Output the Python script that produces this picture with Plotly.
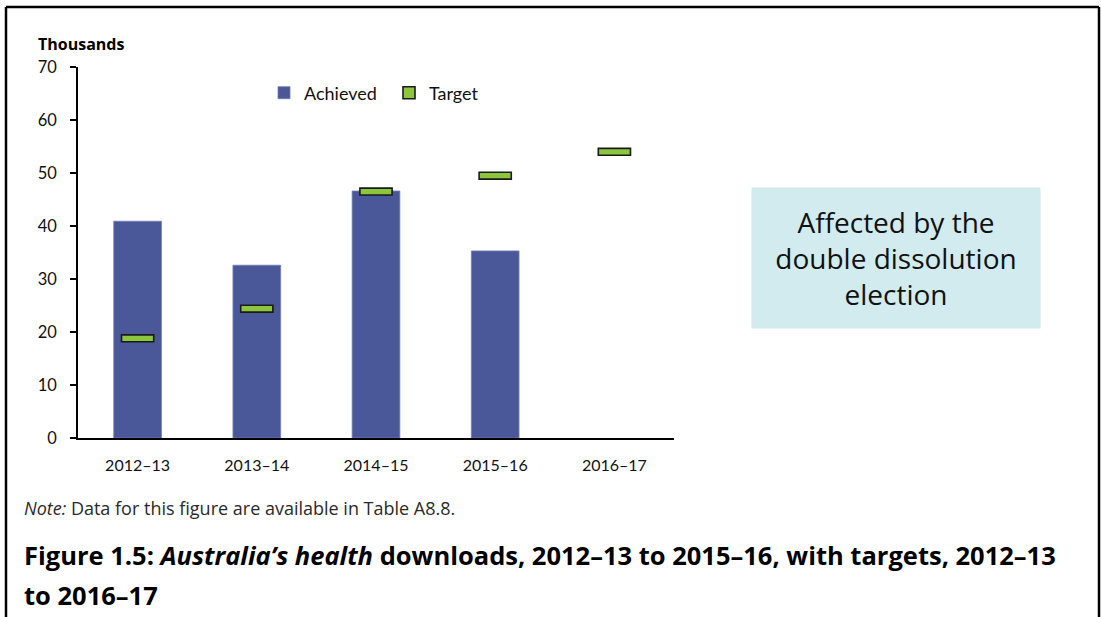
import plotly.graph_objects as go

categories = ["2012–13", "2013–14", "2014–15", "2015–16", "2016–17"]
achieved = [40.9, 32.6, 46.6, 35.3, None]
target = [18.8, 24.4, 46.5, 49.5, 54.0]
y_ticks = [0, 10, 20, 30, 40, 50, 60, 70]

W, H = 1101, 617
L, R, T, B = 78, 674, 67, 438


def px(x):
    return (x - L) / (R - L)


def py(y):
    return (B - y) / (B - T)


marker_h = 1.3
fig = go.Figure()
fig.add_trace(go.Bar(
    x=categories, y=achieved, name="Achieved", width=0.40,
    marker=dict(color="#4a5899", line=dict(color="#6f7cb5", width=0.8)),
))
fig.add_trace(go.Bar(
    x=categories, y=[marker_h] * len(target), base=[t - marker_h / 2 for t in target],
    name="Target", width=0.27,
    marker=dict(color="#8cc63f", line=dict(color="#1a1a1a", width=1.6)),
))

fig.update_layout(
    width=W, height=H,
    margin=dict(l=L, r=W - R, t=T, b=H - B),
    paper_bgcolor="white", plot_bgcolor="white",
    barmode="overlay",
    font=dict(family="Lato, Open Sans, sans-serif", color="#111111"),
    showlegend=True,
    legend=dict(orientation="h", x=px(264), y=py(93), xanchor="left", yanchor="middle",
                font=dict(size=18, family="Lato, sans-serif"), entrywidth=80,
                bgcolor="rgba(0,0,0,0)", traceorder="normal"),
    xaxis=dict(type="category", showline=True, linecolor="black", linewidth=1.5,
               ticks="", tickfont=dict(size=16, family="Lato, sans-serif"), showgrid=False,
               ticklabelstandoff=12),
    yaxis=dict(range=[0, 70], tickvals=y_ticks, showline=True, linecolor="black", linewidth=1.5,
               ticks="outside", ticklen=6, tickcolor="black", tickwidth=1.5,
               tickfont=dict(size=16.5, family="Lato, sans-serif"), showgrid=False, zeroline=False,
               ticklabelstandoff=10),
    bargap=0.2,
)

annotations = [
    dict(text="<b>Thousands</b>", x=px(36), y=py(44), xanchor="left", yanchor="middle",
         font=dict(size=16, family="Open Sans, sans-serif", color="black")),
    dict(text="Affected by the<br>double dissolution<br>election", x=px(896), y=py(258),
         xanchor="center", yanchor="middle", width=286, height=138,
         bgcolor="#d2ebee", align="center",
         font=dict(size=28, family="Open Sans, sans-serif", color="#111111")),
    dict(text="<i>Note:</i> Data for this figure are available in Table A8.8.", x=px(22), y=py(508),
         xanchor="left", yanchor="middle",
         font=dict(size=18, family="Open Sans, sans-serif", color="#2a2a2a")),
    dict(text="<b>Figure 1.5: <i>Australia’s health</i> downloads, 2012–13 to 2015–16, with targets, 2012–13</b>",
         x=px(22), y=py(555), xanchor="left", yanchor="middle",
         font=dict(size=25.5, family="Open Sans, sans-serif", color="black")),
    dict(text="<b>to 2016–17</b>", x=px(22), y=py(595), xanchor="left", yanchor="middle",
         font=dict(size=25.5, family="Open Sans, sans-serif", color="black")),
]
for a in annotations:
    a.update(xref="paper", yref="paper", showarrow=False)
fig.update_layout(annotations=annotations)

shapes = [
    dict(type="line", x0=px(6), x1=px(1099), y0=py(7), y1=py(7)),
    dict(type="line", x0=px(6), x1=px(6), y0=py(7), y1=py(620)),
    dict(type="line", x0=px(1099), x1=px(1099), y0=py(7), y1=py(620)),
]
for s in shapes:
    s.update(xref="paper", yref="paper", line=dict(color="black", width=2.5))
fig.update_layout(shapes=shapes)

fig.write_html("out.html", config={"displayModeBar": False},
               post_script="document.body.style.margin='0';document.body.style.overflow='hidden';")
